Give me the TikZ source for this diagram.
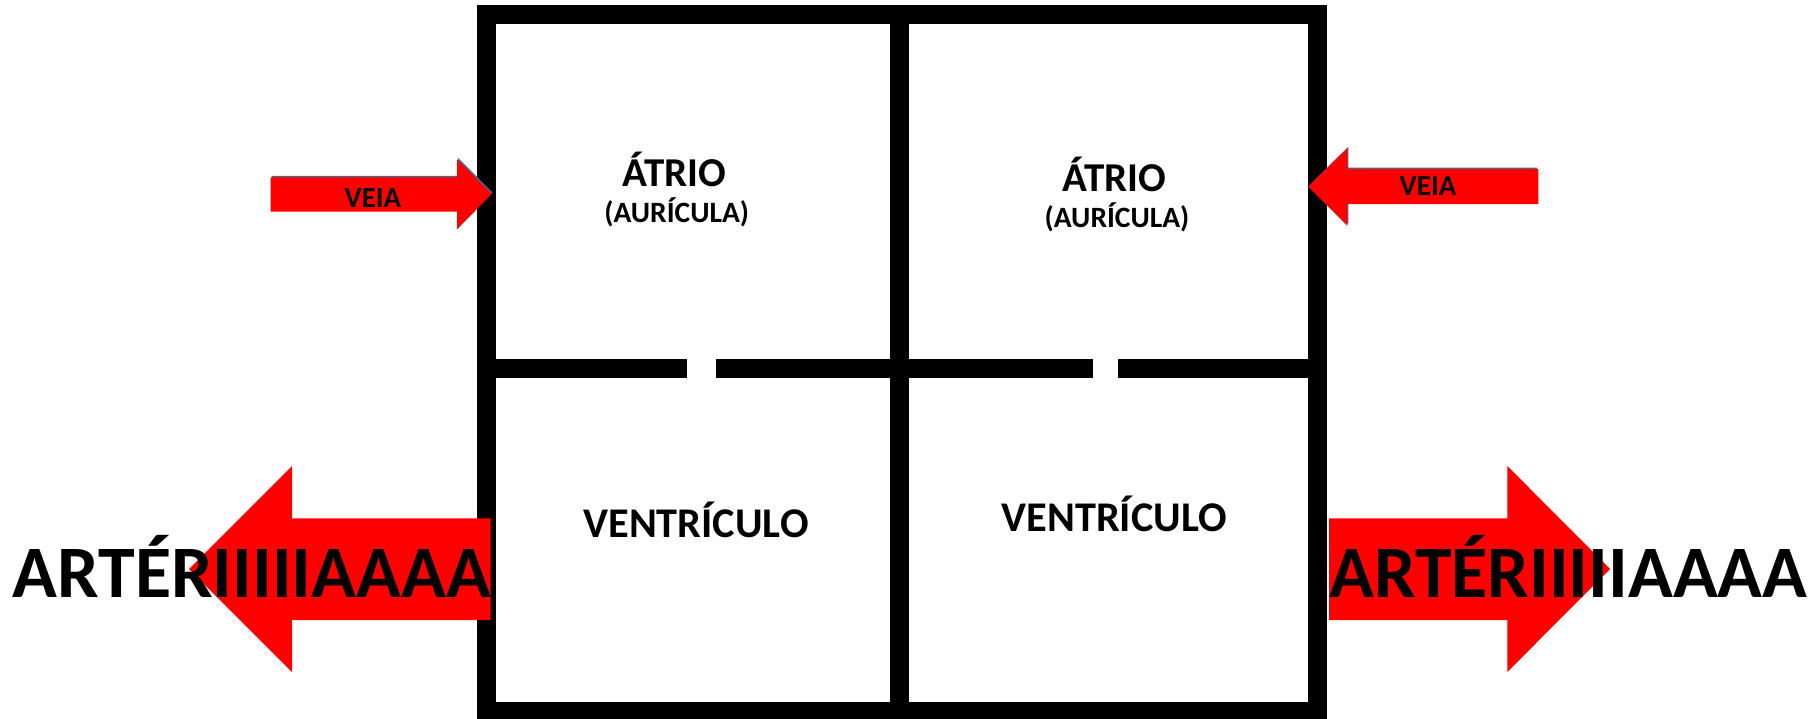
\documentclass[tikz,border=0pt]{standalone}
\usepackage{fontspec}
\setmainfont{Carlito}
\definecolor{arrowred}{RGB}{255,0,0}
\definecolor{shadowblue}{RGB}{79,98,130}
\tikzset{
  wall/.style={line width=19pt, black, line cap=butt},
  frame/.style={line width=19pt, black, line join=miter},
  redarrow/.style={fill=arrowred, draw=none},
  arrowshadow/.style={fill=shadowblue, draw=none},
  lbl/.style={inner sep=0pt, anchor=base, font=\bfseries},
}
\begin{document}
\begin{tikzpicture}[x=1pt,y=-1pt]
\useasboundingbox (0,0) rectangle (1814,718);
\fill[white] (0,0) rectangle (1814,718);
% heart frame
\draw[frame] (486,14.5) rectangle (1317,711.5);
\coordinate (mt) at (899.5,14.5);
\coordinate (mb) at (899.5,711.5);
\draw[wall] (mt) -- (mb);
% divider with valves
\coordinate (d1) at (486,368);
\coordinate (d2) at (687,368);
\coordinate (d3) at (716,368);
\coordinate (d4) at (1093,368);
\coordinate (d5) at (1118,368);
\coordinate (d6) at (1317,368);
\draw[wall] (d1) -- (d2);
\draw[wall] (d3) -- (d4);
\draw[wall] (d5) -- (d6);
% vein arrows
\fill[arrowshadow,shift={(1,-1.5)}] (270.7,177.3) -- (457,177.3) -- (457,159.3) -- (491.7,194) -- (457,229.3) -- (457,211.7) -- (270.7,211.7) -- cycle;
\fill[redarrow] (270.7,177.3) -- (457,177.3) -- (457,159.3) -- (491.7,194) -- (457,229.3) -- (457,211.7) -- (270.7,211.7) -- cycle;
\fill[arrowshadow,shift={(1,-1.5)}] (1536,169) -- (1347.3,169) -- (1347.3,148.3) -- (1308.3,186.7) -- (1347.3,225.7) -- (1347.3,204) -- (1536,204) -- cycle;
\fill[redarrow] (1538.3,169) -- (1347.3,169) -- (1347.3,148.3) -- (1308.3,186.7) -- (1347.3,225.7) -- (1347.3,204) -- (1538.3,204) -- cycle;
% artery arrows
\fill[redarrow] (490.5,518.3) -- (292,518.3) -- (292,466) -- (189,569) -- (292,672) -- (292,620) -- (490.5,620) -- cycle;
\fill[redarrow] (1329,518.3) -- (1507.3,518.3) -- (1507.3,466) -- (1610,569) -- (1507.3,672) -- (1507.3,620) -- (1329,620) -- cycle;
% labels
\node[lbl, font=\bfseries\fontsize{41}{41}\selectfont] (atrioL) at (674.7,186.7) {ÁTRIO};
\node[lbl, font=\bfseries\fontsize{29.5}{29.5}\selectfont] (auriL) at (676.7,222.7) {(AURÍCULA)};
\node[lbl, font=\bfseries\fontsize{41}{41}\selectfont] (atrioR) at (1114.7,191.7) {ÁTRIO};
\node[lbl, font=\bfseries\fontsize{29.5}{29.5}\selectfont] (auriR) at (1117,227.7) {(AURÍCULA)};
\node[lbl, font=\bfseries\fontsize{42.3}{42.3}\selectfont] (ventL) at (696,537.7) {VENTRÍCULO};
\node[lbl, font=\bfseries\fontsize{42.3}{42.3}\selectfont] (ventR) at (1114.2,531.7) {VENTRÍCULO};
\node[lbl, font=\bfseries\fontsize{29}{29}\selectfont] (veiaL) at (373,207.3) {VEIA};
\node[lbl, font=\bfseries\fontsize{29}{29}\selectfont] (veiaR) at (1428,195.7) {VEIA};
\node[lbl, font=\bfseries\fontsize{74}{74}\selectfont] (artL) at (251.7,597.7) {ARTÉRIIIIIAAAA};
\node[lbl, font=\bfseries\fontsize{74}{74}\selectfont] (artR) at (1568.3,597.7) {ARTÉRIIIIIAAAA};
\end{tikzpicture}
\end{document}
